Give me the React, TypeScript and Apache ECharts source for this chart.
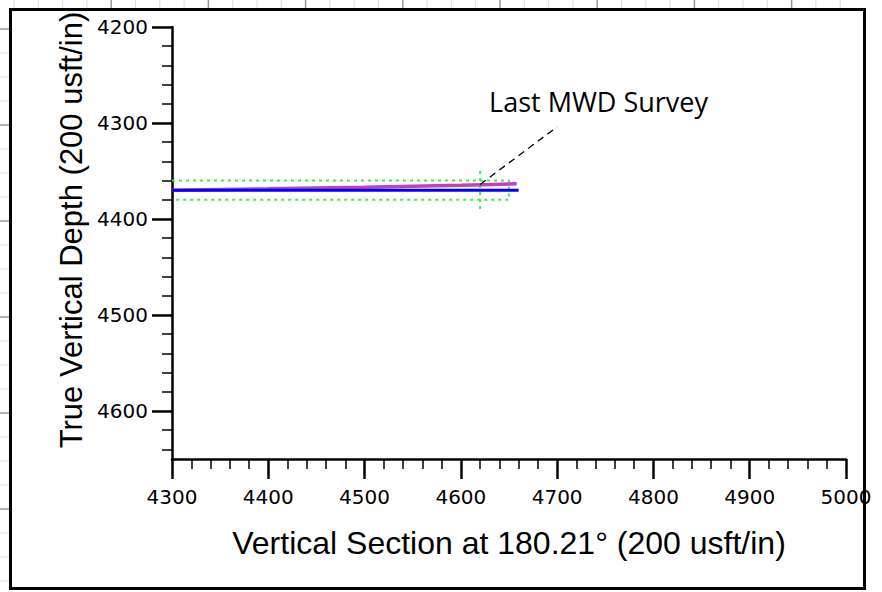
import React, { useEffect, useRef } from "react";
import * as echarts from "echarts";

// ---- data ----
const yMajorTicks = [4200, 4300, 4400, 4500, 4600];
const yMinorTicks = [4220, 4240, 4260, 4280, 4320, 4340, 4360, 4380, 4420, 4440, 4460, 4480, 4520, 4540, 4560, 4580, 4620, 4640];
const planVS = [4300, 4660];
const planTVD = [4370, 4370];
const actualVS = [4300, 4400, 4500, 4600, 4623, 4658];
const actualTVD = [4370, 4368.6, 4366.8, 4364.8, 4364.2, 4363.4];
const windowVS = [4300, 4650, 4650, 4300];
const windowTVD = [4360, 4360, 4380, 4380];
const surveyMarkVS = [4620, 4620];
const surveyMarkTVD = [4350, 4390];
const leaderVS = [4620, 4700];
const leaderTVD = [4364, 4304];
const labelVS = [4743];
const labelTVD = [4278];
const labelText = "Last MWD Survey";

const zip = (a: number[], b: number[]) => a.map((v, i) => [v, b[i]]);

export default function App() {
  const ref = useRef<HTMLDivElement>(null);
  useEffect(() => {
    document.body.style.margin = "0";
    if (!ref.current) return;
    const chart = echarts.init(ref.current, undefined, { renderer: "svg" });

    const paper: any[] = [];
    // grid-paper remnants outside the frame
    for (let i = 0; i < 40; i++) {
      const x = 14 + i * 24.3;
      if (x > 864) break;
      const dark = i % 4 === 0 && i > 0;
      paper.push({
        type: "line",
        shape: { x1: x, y1: 0, x2: x, y2: 9 },
        style: { stroke: dark ? "#999" : "#ddd", lineWidth: dark ? 1.5 : 1 },
        z: 1,
      });
    }
    for (let i = 0; i < 30; i++) {
      const y = 29 + i * 24;
      if (y > 588) break;
      const dark = i % 4 === 0;
      paper.push({
        type: "line",
        shape: { x1: 0, y1: y, x2: 10, y2: y },
        style: { stroke: dark ? "#999" : "#ddd", lineWidth: dark ? 1.5 : 1 },
        z: 1,
      });
    }

    const plain = (v: number) => String(v);
    const axisFont = { fontFamily: "DejaVu Sans", fontSize: 20, color: "#000", formatter: plain };

    const baseGraphic: any[] = [
      ...paper,
      {
        type: "text",
        x: 71,
        y: 230,
        rotation: Math.PI / 2,
        style: {
          text: "True Vertical Depth (200 usft/in)",
          fontFamily: "Liberation Sans",
          fontSize: 31,
          fill: "#000",
          textAlign: "center",
          textVerticalAlign: "middle",
        },
        z: 10,
      },
      {
        type: "rect",
        shape: { x: 10.5, y: 9.5, width: 854, height: 579 },
        style: { fill: "none", stroke: "#000", lineWidth: 3 },
        z: 100,
      },
    ];

    const option: any = {
      animation: false,
      backgroundColor: "#fff",
      grid: { left: 172, top: 27, width: 674, height: 432, containLabel: false },
      xAxis: {
        type: "value",
        min: 4300,
        max: 5000,
        interval: 100,
        position: "bottom",
        splitLine: { show: false },
        axisLine: { show: true, onZero: false, lineStyle: { color: "#000", width: 2.5 } },
        axisTick: { show: true, length: 20, lineStyle: { color: "#000", width: 2.5 } },
        minorTick: { show: true, splitNumber: 5, length: 10, lineStyle: { color: "#000", width: 1.5 } },
        axisLabel: { ...axisFont, margin: 28 },
        name: "Vertical Section at 180.21° (200 usft/in)",
        nameLocation: "middle",
        nameGap: 68,
        nameTextStyle: { fontFamily: "Liberation Sans", fontSize: 32, color: "#000" },
      },
      yAxis: [
        {
          type: "value",
          inverse: true,
          min: 4200,
          max: 4650,
          position: "left",
          splitLine: { show: false },
          axisLine: { show: true, onZero: false, lineStyle: { color: "#000", width: 2.5 } },
          axisTick: { show: true, length: 20, customValues: yMajorTicks, lineStyle: { color: "#000", width: 2.5 } },
          axisLabel: { ...axisFont, margin: 24, customValues: yMajorTicks },
        },
        {
          type: "value",
          inverse: true,
          min: 4200,
          max: 4650,
          position: "left",
          splitLine: { show: false },
          axisLine: { show: false },
          axisTick: { show: true, length: 10, customValues: yMinorTicks, lineStyle: { color: "#000", width: 1.5 } },
          axisLabel: { show: false },
        },
      ],
      series: [
        {
          type: "line",
          data: zip(windowVS, windowTVD),
          symbol: "none",
          lineStyle: { color: "#3cf03c", width: 2, type: [3, 4] },
          z: 2,
        },
        {
          type: "line",
          data: zip(surveyMarkVS, surveyMarkTVD),
          symbol: "none",
          lineStyle: { color: "#3cf03c", width: 2, type: [3, 4] },
          z: 2,
        },
        {
          type: "line",
          data: zip(actualVS, actualTVD),
          symbol: "none",
          lineStyle: { color: "#c040c0", width: 3.5 },
          z: 3,
        },
        {
          type: "line",
          data: zip(planVS, planTVD),
          symbol: "none",
          lineStyle: { color: "#0000ff", width: 3 },
          z: 4,
        },
        {
          type: "line",
          data: zip(leaderVS, leaderTVD),
          symbol: "none",
          clip: false,
          lineStyle: { color: "#000", width: 1.3, type: [7, 5] },
          z: 5,
        },
      ],
      graphic: baseGraphic,
    };
    chart.setOption(option);

    const [lx, ly] = chart.convertToPixel({ gridIndex: 0 }, [labelVS[0], labelTVD[0]]) as number[];
    chart.setOption({
      graphic: [
        ...baseGraphic,
        {
          type: "text",
          x: lx,
          y: ly,
          style: {
            text: labelText,
            fontFamily: "Open Sans",
            fontSize: 27,
            fill: "#000",
            textAlign: "center",
            textVerticalAlign: "middle",
          },
          z: 20,
        },
      ],
    });
    return () => chart.dispose();
  }, []);
  return <div ref={ref} style={{ width: 882, height: 592 }} />;
}
